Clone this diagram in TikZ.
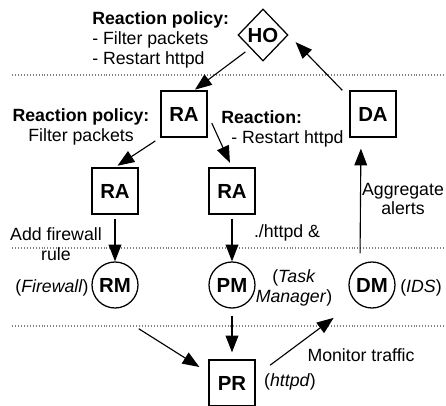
\documentclass[tikz,border=0pt]{standalone}
\usepackage{fontspec}
\setmainfont{Liberation Sans}
\usetikzlibrary{arrows.meta,shapes.geometric}
\newcommand\txtsize{\fontsize{12.6}{14.2}\selectfont}
\tikzset{
  agent/.style={draw,line width=0.9pt,minimum size=11.5mm,inner sep=0pt,font=\fontsize{14.5}{16}\selectfont\bfseries},
  module/.style={agent,circle},
  hostnode/.style={agent,diamond,aspect=1,minimum width=12.5mm,minimum height=13mm},
  txt/.style={inner sep=0pt,font=\txtsize},
  arr/.style={-{Triangle[length=4.2mm,width=3.2mm]},line width=0.8pt},
  sep/.style={gray,line width=0.8pt,dash pattern=on 0.6pt off 1.5pt}
}

\begin{document}
\begin{tikzpicture}[x=0.25mm,y=-0.25mm]
    \useasboundingbox (0,0) rectangle (446,406);
    \foreach \y in {75,248,326}
      \draw[sep] (12,\y) -- (446,\y);

    % agents
    \node[hostnode] (ho) at (263,35) {HO};
    \node[agent] (raT) at (184,114) {RA};
    \node[agent] (da) at (373,114) {DA};
    \node[agent] (raL) at (115,191) {RA};
    \node[agent] (raM) at (232,191) {RA};
    \node[module] (rm) at (115,285) {RM};
    \node[module] (pm) at (232,285) {PM};
    \node[module] (dm) at (372,285) {DM};
    \node[agent] (pr) at (232,383) {PR};

    % texts
    \node[txt,anchor=west,align=left] (polHO) at (92,40) {\textbf{Reaction policy:}\\- Filter packets\\- Restart httpd};
    \node[txt,align=center] (polRA) at (81,127) {\textbf{Reaction policy:}\\Filter packets};
    \node[txt,anchor=west,align=left] (reactRA) at (221,129) {\textbf{Reaction:}\\\hspace{2.5mm}- Restart httpd};
    \node[txt,align=center] (aggr) at (403,199) {Aggregate\\alerts};
    \node[txt,align=center] (addfw) at (56,244) {Add firewall\\rule};
    \node[txt] (cmd) at (287,233) {./httpd \&};
    \node[txt] (fw) at (52,288) {(\textit{Firewall})};
    \node[txt,align=center] (tm) at (294,288) {(\textit{Task}\\\textit{Manager})};
    \node[txt] (ids) at (421,288) {(\textit{IDS})};
    \node[txt] (mon) at (361,355) {Monitor traffic};
    \node[txt] (httpd) at (290,382) {(\textit{httpd})};

    % arrows
    \draw[arr,shorten <=1.5mm,shorten >=0.3mm] (ho.south west) -- ([xshift=2.5mm]raT.north);
    \draw[arr,shorten >=2.5mm] ([xshift=-1.75mm]da.north west) -- (ho.east);
    \draw[arr,shorten <=1.5mm,shorten >=0.75mm] (raT.south west) -- (raL.north);
    \draw[arr,shorten <=2.5mm,shorten >=1.25mm] (raT.east) -- (raM.north);
    \draw[arr,shorten <=1mm] (raL.south) -- (rm.north);
    \draw[arr,shorten <=1mm] (raM.south) -- (pm.north);
    \draw[arr,shorten <=2mm,shorten >=2.75mm] ([xshift=-3mm]dm.north) -- ([xshift=-3mm]da.south);
    \draw[arr] ([xshift=1.75mm,yshift=-6.75mm]rm.south east) -- ([xshift=-2.25mm,yshift=4mm]pr.west);
    \draw[arr,shorten <=1.75mm,shorten >=1.75mm] (pm.south) -- (pr.north);
    \draw[arr,shorten <=4.5mm,shorten >=6.75mm] ([yshift=1.75mm]pr.east) -- (dm.south west);
\end{tikzpicture}
\end{document}
